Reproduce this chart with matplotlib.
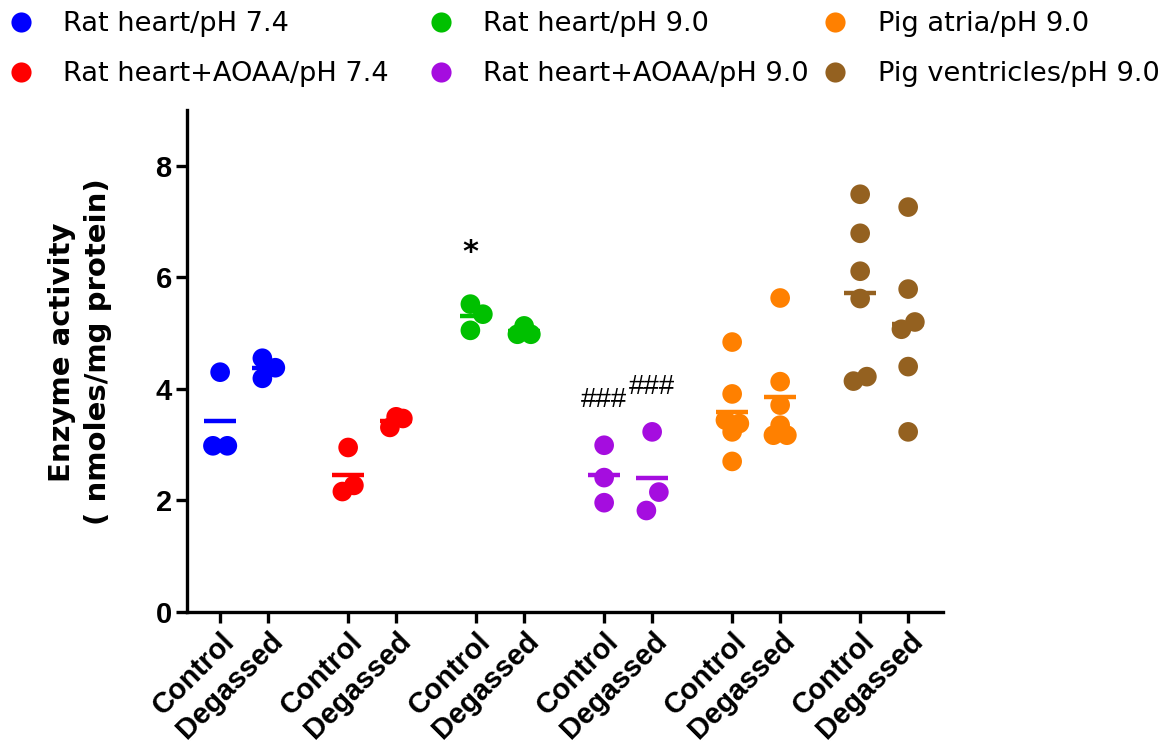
import matplotlib
matplotlib.use("Agg")
import matplotlib.pyplot as plt
import numpy as np

series_names = ["Rat heart/pH 7.4", "Rat heart+AOAA/pH 7.4", "Rat heart/pH 9.0",
                "Rat heart+AOAA/pH 9.0", "Pig atria/pH 9.0", "Pig ventricles/pH 9.0"]
colors = ["#0000FF", "#FF0000", "#00C000", "#A50DDF", "#FF8000", "#946120"]
conditions = ["Control", "Degassed"]

rat74_control = [4.30, 2.98, 2.98]
rat74_degassed = [4.55, 4.19, 4.38]
aoaa74_control = [2.95, 2.16, 2.27]
aoaa74_degassed = [3.31, 3.50, 3.47]
rat90_control = [5.52, 5.05, 5.34]
rat90_degassed = [5.13, 4.98, 4.98]
aoaa90_control = [2.99, 2.41, 1.96]
aoaa90_degassed = [3.23, 2.15, 1.82]
atria_control = [4.84, 3.91, 3.44, 3.38, 3.23, 2.70]
atria_degassed = [5.63, 4.13, 3.71, 3.35, 3.17, 3.17]
vent_control = [7.49, 6.79, 6.11, 5.62, 4.14, 4.22]
vent_degassed = [7.26, 5.79, 5.20, 5.07, 4.40, 3.23]

# horizontal jitter offsets (scatter-dot layout), in category units
rat74_control_dx = [0.0, -0.15, 0.15]
rat74_degassed_dx = [-0.12, -0.12, 0.15]
aoaa74_control_dx = [0.0, -0.12, 0.12]
aoaa74_degassed_dx = [-0.13, 0.0, 0.14]
rat90_control_dx = [-0.12, -0.12, 0.14]
rat90_degassed_dx = [0.0, -0.14, 0.14]
aoaa90_control_dx = [0.0, 0.0, 0.0]
aoaa90_degassed_dx = [0.0, 0.14, -0.12]
atria_control_dx = [0.0, 0.0, -0.14, 0.15, 0.0, 0.0]
atria_degassed_dx = [0.0, 0.0, 0.0, 0.0, -0.14, 0.14]
vent_control_dx = [0.0, 0.0, 0.0, 0.0, -0.14, 0.14]
vent_degassed_dx = [0.0, 0.0, 0.14, -0.14, 0.0, 0.0]

groups = [
    (rat74_control, rat74_control_dx, rat74_degassed, rat74_degassed_dx),
    (aoaa74_control, aoaa74_control_dx, aoaa74_degassed, aoaa74_degassed_dx),
    (rat90_control, rat90_control_dx, rat90_degassed, rat90_degassed_dx),
    (aoaa90_control, aoaa90_control_dx, aoaa90_degassed, aoaa90_degassed_dx),
    (atria_control, atria_control_dx, atria_degassed, atria_degassed_dx),
    (vent_control, vent_control_dx, vent_degassed, vent_degassed_dx),
]

SANS = ['Liberation Sans', 'Arial', 'DejaVu Sans']

fig = plt.figure(figsize=(11.74, 7.45), dpi=100)
ax = fig.add_axes([0.1593, 0.1785, 0.8032 - 0.1593, 0.8523 - 0.1785])

group_step = 2.667
positions = []
labels = []
for gi, (c, cdx, d, ddx) in enumerate(groups):
    base = gi * group_step
    for k, (vals, dxs) in enumerate([(c, cdx), (d, ddx)]):
        x0 = base + k
        positions.append(x0)
        labels.append(conditions[k])
        xs = np.array(dxs) + x0
        ax.scatter(xs, vals, s=200, color=colors[gi], edgecolors='none', zorder=3)
        m = np.mean(vals)
        ax.plot([x0 - 0.33, x0 + 0.33], [m, m], color=colors[gi], lw=3.2,
                solid_capstyle='butt', zorder=2)

# significance marks
ax.text(positions[4] - 0.12, 6.45, "*", ha='center', va='center', fontsize=22,
        fontweight='bold', family='DejaVu Sans')
ax.text(positions[6], 3.81, "###", ha='center', va='center', fontsize=20,
        family=SANS)
ax.text(positions[7], 4.03, "###", ha='center', va='center', fontsize=20,
        family=SANS)

ax.set_xlim(-0.69, 15.06)
ax.set_ylim(0, 9.0)
ax.set_yticks([0, 2, 4, 6, 8])
ax.set_xticks(positions)
ax.set_xticklabels(labels, rotation=45, ha='right', rotation_mode='anchor',
                   fontsize=21, fontweight='bold', family=SANS)
for t in ax.get_yticklabels():
    t.set_fontsize(21)
    t.set_fontweight('bold')
    t.set_family(SANS)

for s in ['top', 'right']:
    ax.spines[s].set_visible(False)
for s in ['left', 'bottom']:
    ax.spines[s].set_linewidth(2.4)
ax.tick_params(axis='both', width=2.4, length=8, direction='out', pad=3)

ax.set_ylabel("Enzyme activity\n( nmoles/mg protein)", fontsize=21, fontweight='bold',
              family='DejaVu Sans', linespacing=1.35)
ax.yaxis.set_label_coords(-0.099, 0.518)

# legend: three columns, each its own legend
cols = [(0, 1), (2, 3), (4, 5)]
col_x = [0.006, 0.3637, 0.700]
for (a, b), xl in zip(cols, col_x):
    hs = [plt.Line2D([], [], marker='o', ls='none', markersize=14.5,
                     markerfacecolor=colors[i], markeredgecolor='none') for i in (a, b)]
    fig.legend(hs, [series_names[a], series_names[b]], loc='upper left',
               bbox_to_anchor=(xl, 0.985), frameon=False,
               prop={'family': 'DejaVu Sans', 'size': 19.6},
               handletextpad=1.05, labelspacing=0.88, handlelength=1.0,
               borderaxespad=0, borderpad=0)

fig.savefig("out.png", dpi=100)
